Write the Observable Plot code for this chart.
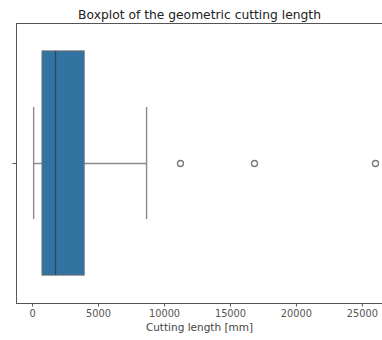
<!DOCTYPE html>
<html>
<head>
<meta charset="utf-8">
<script src="https://cdn.jsdelivr.net/npm/d3@7"></script>
<script src="https://cdn.jsdelivr.net/npm/@observablehq/plot@0.6"></script>
<style>
  html, body { margin: 0; padding: 0; background: #fff; overflow: hidden; }
  #chart svg { overflow: hidden; }
</style>
</head>
<body>
<div id="chart"></div>
<script>
const title = "Boxplot of the geometric cutting length";
const xLabel = "Cutting length [mm]";
const xTicks = [0, 5000, 10000, 15000, 20000, 25000];
// box summary
const whiskerLow = [80];
const q1 = [760];
const median = [1740];
const q3 = [3940];
const whiskerHigh = [8640];
const outliers = [11210, 16820, 25990];

const box = [{q1: q1[0], q3: q3[0], med: median[0], lo: whiskerLow[0], hi: whiskerHigh[0]}];
const whisk = "#8a8a8a";

const plot = Plot.plot({
  width: 382,
  height: 340,
  marginTop: 23,
  marginBottom: 37,
  marginLeft: 16,
  marginRight: 0,
  style: {fontFamily: "DejaVu Sans", fontSize: "10px", color: "#444"},
  x: {domain: [-1219, 27280], range: [16, 392], label: null},
  y: {domain: [-0.5, 0.5], axis: null},
  marks: [
    Plot.frame({stroke: "#555", strokeWidth: 1}),
    // x axis
    Plot.axisX({ticks: xTicks, tickFormat: d => String(d), tickSize: 3.5, tickPadding: 3, stroke: "#555", fill: "#555", fontSize: 9.8, label: null}),
    Plot.text([xLabel], {frameAnchor: "bottom", dy: 27, fontSize: 10.5, fill: "#444"}),
    // y tick (empty category label)
    Plot.ruleY([0], {x1: -1219 - 3.5 * 75.76, x2: -1219, stroke: "#555"}),
    // title
    Plot.text([title], {frameAnchor: "top", dy: -13, fontSize: 12.3, fill: "#222"}),
    // whiskers
    Plot.ruleY(box, {y: 0, x1: "lo", x2: "q1", stroke: whisk, strokeWidth: 1.4}),
    Plot.ruleY(box, {y: 0, x1: "q3", x2: "hi", stroke: whisk, strokeWidth: 1.4}),
    Plot.ruleX(box, {x: "lo", y1: -0.2, y2: 0.2, stroke: whisk, strokeWidth: 1.4}),
    Plot.ruleX(box, {x: "hi", y1: -0.2, y2: 0.2, stroke: whisk, strokeWidth: 1.4}),
    // box
    Plot.rect(box, {x1: "q1", x2: "q3", y1: -0.4, y2: 0.4, fill: "#3274a1", stroke: "#5a6a78", strokeWidth: 1.2}),
    Plot.ruleX(box, {x: "med", y1: -0.4, y2: 0.4, stroke: "#2f4a60", strokeWidth: 1.4}),
    // outliers
    Plot.dot(outliers, {x: d => d, y: 0, r: 3, stroke: "#777", strokeWidth: 1.3, fill: "none"})
  ]
});
document.getElementById("chart").append(plot);
</script>
</body>
</html>
